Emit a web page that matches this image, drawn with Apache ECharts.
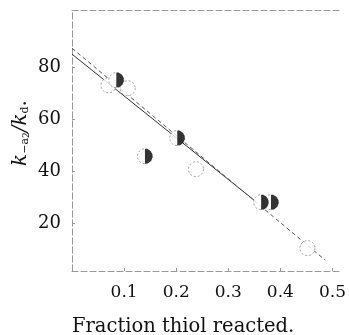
<!DOCTYPE html>
<html>
<head>
<meta charset="utf-8">
<script src="https://cdn.jsdelivr.net/npm/echarts@6/dist/echarts.min.js"></script>
<style>
  html, body { margin: 0; padding: 0; background: #fff; }
  #chart { width: 349px; height: 335px; }
</style>
</head>
<body>
<div id="chart"></div>
<script>
// values
const xTicks = [0.1, 0.2, 0.3, 0.4, 0.5];
const yTicks = [20, 40, 60, 80];
const openX = [0.070, 0.107, 0.238, 0.452];
const openY = [73.0, 71.9, 40.7, 10.3];
const halfX = [0.085, 0.140, 0.202, 0.363, 0.382];
const halfY = [75.0, 45.7, 52.7, 28.0, 28.0];
const solidX = [0, 0.35];
const solidY = [85.0, 28.7];
const dashX = [0, 0.486];
const dashY = [87.3, 5.7];

const zip = (xs, ys) => xs.map((x, i) => [x, ys[i]]);
const serif = 'DejaVu Serif';
const halfDisc = 'path://M0,0 C5.523,0 10,4.477 10,10 C10,15.523 5.523,20 0,20 Z';
const frame = { show: true, lineStyle: { color: '#999', width: 1, type: [6, 3] } };

let myChart = echarts.init(document.getElementById('chart'));

myChart.setOption({
    animation: false,
    backgroundColor: '#fff',
    title: {
        text: 'Fraction thiol reacted.',
        left: 72,
        top: 317,
        padding: 0,
        textStyle: { fontFamily: serif, fontSize: 19.5, fontWeight: 'normal', color: '#111' }
    },
    // y axis title, rotated
    graphic: [{
        type: 'text',
        x: 21,
        y: 133,
        rotation: Math.PI / 2,
        style: {
            text: '{k|k}{s|\u2212a}{ss|2}{k|/k}{s|d}{p|.}',
            align: 'center',
            verticalAlign: 'middle',
            fill: '#111',
            rich: {
                k: { fontFamily: serif, fontStyle: 'italic', fontSize: 20, fill: '#111' },
                s: { fontFamily: serif, fontSize: 11, fill: '#111', verticalAlign: 'bottom', lineHeight: 18 },
                ss: { fontFamily: serif, fontSize: 9, fill: '#111', verticalAlign: 'bottom', lineHeight: 13 },
                p: { fontFamily: serif, fontSize: 20, fill: '#111' }
            }
        }
    }],
    grid: { left: 72, right: 6, top: 10, bottom: 64 },
    xAxis: [{
        type: 'value',
        min: 0,
        max: 0.515,
        axisLine: frame,
        axisTick: { show: true, inside: true, length: 3, customValues: xTicks, lineStyle: { color: '#999' } },
        axisLabel: { customValues: xTicks, margin: 13, fontFamily: serif, fontSize: 17, color: '#111' },
        splitLine: { show: false }
    }, {
        type: 'value',
        position: 'top',
        min: 0,
        max: 0.515,
        axisLine: frame,
        axisTick: { show: false },
        axisLabel: { show: false },
        splitLine: { show: false }
    }],
    yAxis: [{
        type: 'value',
        min: 1.5,
        max: 102,
        axisLine: frame,
        axisTick: { show: true, inside: true, length: 3, customValues: yTicks, lineStyle: { color: '#999' } },
        axisLabel: { customValues: yTicks, margin: 11, fontFamily: serif, fontSize: 18, color: '#111' },
        splitLine: { show: false }
    }, {
        type: 'value',
        position: 'right',
        min: 1.5,
        max: 102,
        axisLine: frame,
        axisTick: { show: false },
        axisLabel: { show: false },
        splitLine: { show: false }
    }],
    series: [{
        type: 'line',
        data: zip(solidX, solidY),
        showSymbol: false,
        symbol: 'none',
        lineStyle: { color: '#333', width: 1 }
    }, {
        type: 'line',
        data: zip(dashX, dashY),
        showSymbol: false,
        symbol: 'none',
        lineStyle: { color: '#555', width: 1, type: [4, 3] }
    }, {
        type: 'scatter',
        data: zip(openX, openY).concat(zip(halfX, halfY)),
        symbol: 'circle',
        symbolSize: 15,
        itemStyle: { color: '#fff', borderColor: '#888', borderWidth: 1, borderType: [2, 2] },
        z: 3
    }, {
        type: 'scatter',
        data: zip(halfX, halfY),
        symbol: halfDisc,
        symbolKeepAspect: true,
        symbolSize: 15,
        symbolOffset: [3.75, 0],
        itemStyle: { color: '#000' },
        z: 4
    }]
});
</script>
</body>
</html>
